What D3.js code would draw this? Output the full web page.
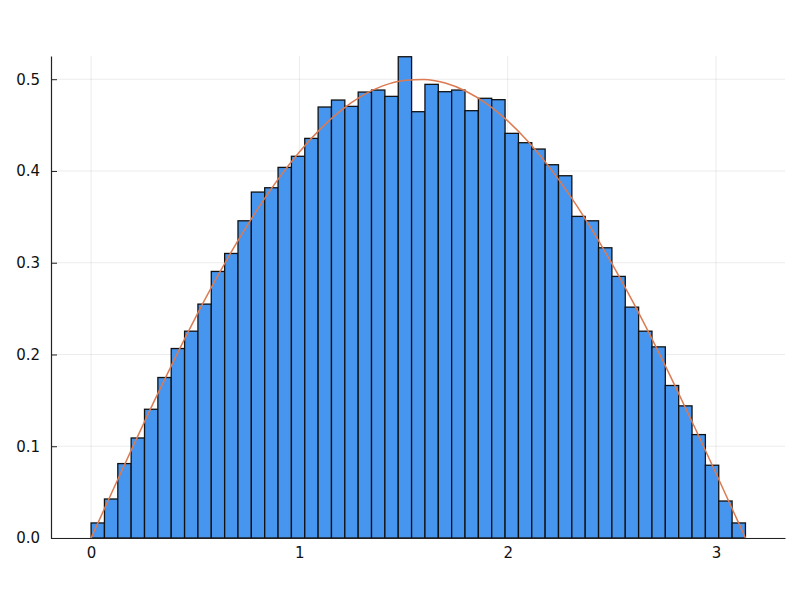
<!DOCTYPE html>
<html>
<head>
<meta charset="utf-8">
<script src="https://cdn.jsdelivr.net/npm/d3@7"></script>
<style>
  html, body { margin: 0; padding: 0; background: #fff; }
  svg { display: block; }
  text { font-family: "DejaVu Sans", sans-serif; }
</style>
</head>
<body>
<svg id="chart" width="800" height="600"></svg>
<script>
// Histogram bins: 49 bins from 0 to pi
const binStart = 0;
const binEnd = 3.14159;
const binDensity = [
  0.0164, 0.0425, 0.0811, 0.1090, 0.1403, 0.1749, 0.2065, 0.2254, 0.2549, 0.2905,
  0.3101, 0.3457, 0.3770, 0.3817, 0.4039, 0.4160, 0.4355, 0.4697, 0.4773, 0.4704,
  0.4860, 0.4882, 0.4813, 0.5245, 0.4646, 0.4944, 0.4864, 0.4882, 0.4657, 0.4792,
  0.4777, 0.4410, 0.4308, 0.4239, 0.4068, 0.3948, 0.3505, 0.3457, 0.3163, 0.2851,
  0.2516, 0.2254, 0.2083, 0.1662, 0.1440, 0.1127, 0.0793, 0.0403, 0.0164
];
// Density curve points (x, y)
const curveX = [0, 0.1, 0.2, 0.3, 0.4, 0.5, 0.6, 0.7, 0.8, 0.9, 1.0, 1.1, 1.2, 1.3, 1.4, 1.5,
  1.6, 1.7, 1.8, 1.9, 2.0, 2.1, 2.2, 2.3, 2.4, 2.5, 2.6, 2.7, 2.8, 2.9, 3.0, 3.1, 3.1416];
const curveY = [0, 0.0499, 0.0993, 0.1478, 0.1947, 0.2397, 0.2823, 0.3221, 0.3587, 0.3917,
  0.4207, 0.4456, 0.4660, 0.4818, 0.4927, 0.4987, 0.4998, 0.4958, 0.4869, 0.4731, 0.4546,
  0.4316, 0.4042, 0.3729, 0.3377, 0.2992, 0.2578, 0.2137, 0.1675, 0.1196, 0.0706, 0.0208, 0];
const xTicks = [0, 1, 2, 3];
const yTicks = [0.0, 0.1, 0.2, 0.3, 0.4, 0.5];

const svg = d3.select("#chart");
const mLeft = 51, mRight = 785, mTop = 56, mBottom = 538;

const x = d3.scaleLinear().domain([-0.1925, 3.3315]).range([mLeft, mRight]);
const y = d3.scaleLinear().domain([0, 0.5253]).range([mBottom, mTop]);

// grid
const grid = svg.append("g");
grid.selectAll(".gx").data(xTicks).enter().append("line")
  .attr("x1", d => x(d)).attr("x2", d => x(d))
  .attr("y1", mTop).attr("y2", mBottom)
  .attr("stroke", "#000").attr("stroke-opacity", 0.08).attr("stroke-width", 1);
grid.selectAll(".gy").data(yTicks).enter().append("line")
  .attr("x1", mLeft).attr("x2", mRight)
  .attr("y1", d => y(d)).attr("y2", d => y(d))
  .attr("stroke", "#000").attr("stroke-opacity", 0.08).attr("stroke-width", 1);

// bars
const nb = binDensity.length;
const bw = (binEnd - binStart) / nb;
svg.append("g").selectAll("rect").data(binDensity).enter().append("rect")
  .attr("x", (d, i) => x(binStart + i * bw))
  .attr("width", (d, i) => x(binStart + (i + 1) * bw) - x(binStart + i * bw))
  .attr("y", d => y(d))
  .attr("height", d => y(0) - y(d))
  .attr("fill", "#4696ef")
  .attr("stroke", "#111")
  .attr("stroke-width", 1.3);

// curve
const pts = curveX.map((v, i) => [v, curveY[i]]);
svg.append("path").datum(pts)
  .attr("d", d3.line().x(d => x(d[0])).y(d => y(d[1])).curve(d3.curveMonotoneX))
  .attr("fill", "none")
  .attr("stroke", "#dc7a52")
  .attr("stroke-width", 1.5);

// axes
const xAxis = d3.axisBottom(x).tickValues(xTicks).tickFormat(d3.format("d")).tickSizeOuter(0).tickSizeInner(0).tickPadding(9);
const gx = svg.append("g").attr("transform", `translate(0,${mBottom})`).call(xAxis);
gx.select(".domain").attr("stroke", "#222").attr("stroke-width", 1.2);
gx.selectAll("text").attr("font-size", 15).attr("fill", "#111").attr("font-family", "DejaVu Sans");

const yAxis = d3.axisLeft(y).tickValues(yTicks).tickFormat(d3.format(".1f")).tickSizeOuter(0).tickSizeInner(-6).tickPadding(11);
const gy = svg.append("g").attr("transform", `translate(${mLeft},0)`).call(yAxis);
gy.select(".domain").attr("stroke", "#222").attr("stroke-width", 1.2);
gy.selectAll(".tick line").attr("stroke", "#222");
gy.selectAll("text").attr("font-size", 15).attr("fill", "#111").attr("font-family", "DejaVu Sans");
</script>
</body>
</html>
